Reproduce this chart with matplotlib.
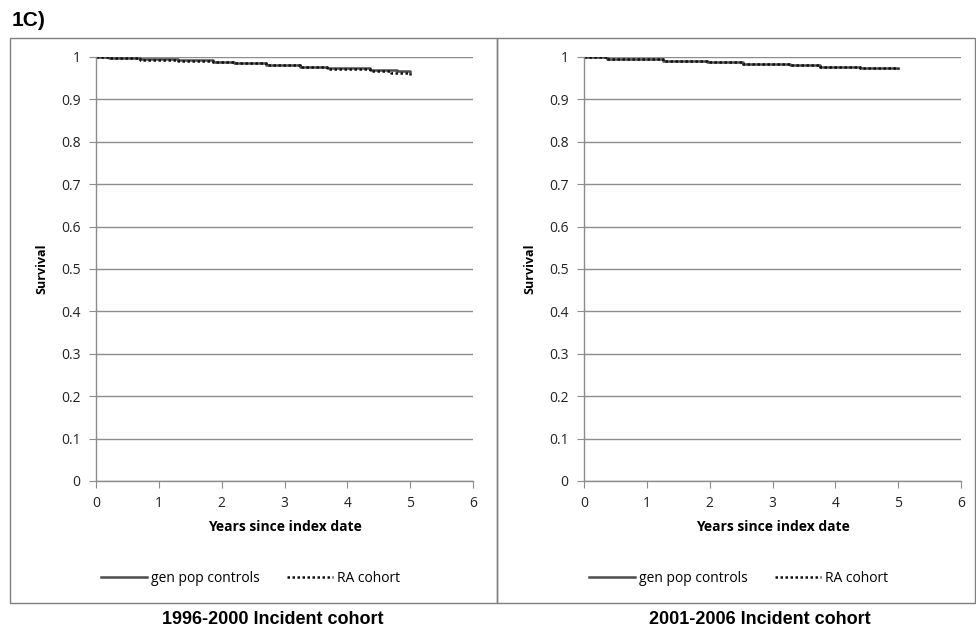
import matplotlib
matplotlib.use("Agg")
import matplotlib.pyplot as plt
from matplotlib.patches import Rectangle

# step survival curves (years, survival)
t_ctrl_a = [0, 0.2, 0.7, 1.3, 1.86, 2.2, 2.7, 3.25, 3.68, 4.36, 4.79, 5.0]
s_ctrl_a = [1.0, 0.998, 0.995, 0.992, 0.989, 0.986, 0.981, 0.977, 0.973, 0.970, 0.968, 0.965]
t_ra_a = [0, 0.2, 0.7, 1.3, 1.86, 2.2, 2.7, 3.25, 3.68, 4.36, 4.7, 5.0]
s_ra_a = [1.0, 0.997, 0.994, 0.991, 0.988, 0.985, 0.980, 0.976, 0.972, 0.967, 0.963, 0.958]

t_ctrl_b = [0, 0.37, 1.26, 1.96, 2.53, 3.28, 3.76, 4.4, 5.0]
s_ctrl_b = [1.0, 0.995, 0.991, 0.988, 0.984, 0.981, 0.977, 0.974, 0.974]
t_ra_b = [0, 0.37, 1.26, 1.96, 2.53, 3.28, 3.76, 4.4, 5.0]
s_ra_b = [1.0, 0.995, 0.991, 0.988, 0.984, 0.981, 0.977, 0.974, 0.972]

yticks = [0, 0.1, 0.2, 0.3, 0.4, 0.5, 0.6, 0.7, 0.8, 0.9, 1]
ytick_labels = ["0", "0.1", "0.2", "0.3", "0.4", "0.5", "0.6", "0.7", "0.8", "0.9", "1"]
xticks = [0, 1, 2, 3, 4, 5, 6]
panel_titles = ["1996-2000 Incident cohort", "2001-2006 Incident cohort"]

W, H = 976, 636
fig = plt.figure(figsize=(W / 100, H / 100), dpi=100)

grey = "#8c8c8c"
tickfont = "Open Sans"

# panel frames
fig.patches.append(Rectangle((10 / W, 1 - 603 / H), 487 / W, 565 / H, transform=fig.transFigure,
                             fill=False, edgecolor="#7f7f7f", lw=1.0))
fig.patches.append(Rectangle((497 / W, 1 - 603 / H), 478 / W, 565 / H, transform=fig.transFigure,
                             fill=False, edgecolor="#7f7f7f", lw=1.0))

fig.text(12 / W, 1 - 20 / H, "1C)", fontsize=15, fontweight="bold", family="Liberation Sans",
         va="center", ha="left")

panels = [
    (96, t_ctrl_a, s_ctrl_a, t_ra_a, s_ra_a, 273),
    (584, t_ctrl_b, s_ctrl_b, t_ra_b, s_ra_b, 760),
]

for i, (x0, tc, sc, tr, sr, tx) in enumerate(panels):
    ax = fig.add_axes([x0 / W, 1 - 481 / H, 377 / W, 424 / H])
    ax.plot(tc, sc, drawstyle="steps-post", color="#4d4d4d", lw=1.8, label="gen pop controls")
    ax.plot(tr, sr, drawstyle="steps-post", color="#111111", lw=1.8, ls=(0, (1, 1)), label="RA cohort")
    ax.set_xlim(0, 6)
    ax.set_ylim(0, 1)
    ax.set_yticks(yticks)
    ax.set_yticklabels(ytick_labels)
    ax.set_xticks(xticks)
    ax.grid(axis="y", color=grey, lw=1.0)
    ax.set_axisbelow(True)
    for s in ["top", "right"]:
        ax.spines[s].set_visible(False)
    for s in ["left", "bottom"]:
        ax.spines[s].set_color(grey)
        ax.spines[s].set_linewidth(1.0)
    ax.tick_params(axis="both", direction="out", length=5, color=grey, labelsize=10,
                   pad=6, labelcolor="#222222")
    for lab in ax.get_xticklabels() + ax.get_yticklabels():
        lab.set_family(tickfont)
    ax.set_xlabel("Years since index date", fontsize=10, fontweight="bold", family=tickfont, labelpad=6)
    ax.set_ylabel("Survival", fontsize=9, fontweight="bold", family=tickfont, labelpad=9)
    ax.legend(loc="center", bbox_to_anchor=(0.41, (481 - 578) / 424), ncol=2, frameon=False,
              prop={"family": tickfont, "size": 10}, handlelength=3.3, handletextpad=0.3,
              columnspacing=2.0)
    fig.text(tx / W, 1 - 620 / H, panel_titles[i], fontsize=13, fontweight="bold",
             family="Liberation Sans", ha="center", va="center")

fig.savefig("out.png", dpi=100)
